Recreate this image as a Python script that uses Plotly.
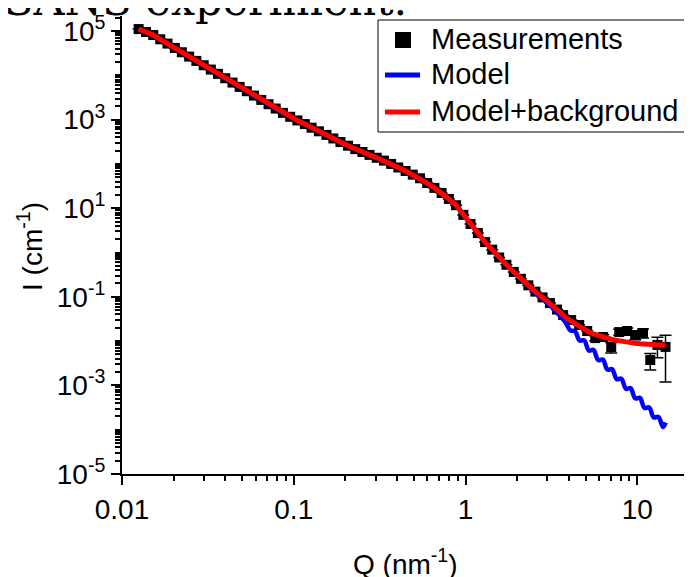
import plotly.graph_objects as go

# ---------------- data ----------------
q_meas = [0.0125, 0.0138, 0.0152, 0.0167, 0.0184, 0.0203, 0.0223, 0.0246, 0.0271, 0.0299,
          0.0329, 0.0362, 0.0399, 0.0440, 0.0484, 0.0533, 0.0587, 0.0647, 0.0713, 0.0785,
          0.0865, 0.0953, 0.105, 0.116, 0.127, 0.140, 0.155, 0.170, 0.187, 0.207,
          0.228, 0.251, 0.276, 0.304, 0.335, 0.369, 0.406, 0.448, 0.493, 0.543,
          0.598, 0.659, 0.726, 0.800, 0.881, 0.971, 1.07, 1.18, 1.30, 1.43,
          1.57, 1.73, 1.91, 2.10, 2.32, 2.55, 2.81, 3.10, 3.41,
          3.70, 4.12, 4.59, 5.11, 5.69, 6.33, 7.05, 7.85, 8.73, 9.72, 10.8, 11.9, 13.1, 14.6]

i_meas = [1.11e5, 9.51e4, 8.13e4, 6.52e4, 5.21e4, 4.16e4, 3.32e4, 2.65e4, 2.12e4, 1.69e4,
          1.35e4, 1.08e4, 8610, 6870, 5480, 4380, 3490, 2790, 2230, 1780,
          1420, 1160, 959, 794, 658, 546, 453, 376, 312, 258,
          216, 186, 160, 138, 119, 100, 83.4, 69.2, 57.3, 47.5,
          37.0, 28.8, 22.1, 16.2, 11.7, 7.08, 4.42, 2.75, 1.72, 1.16,
          0.773, 0.530, 0.365, 0.255, 0.182, 0.131, 0.0971, 0.0723, 0.0516,
          0.0388, 0.0299, 0.0231, 0.0169, 0.0117, 0.0124, 0.00736, 0.0160, 0.0169, 0.0137,
          0.0152, 0.00374, 0.0082, 0.0074]

err_meas = [None] * 63 + [0.0015, 0.0015, 0.0020, 0.0025, 0.0030, 0.0030, 0.0035, 0.0015, 0.0040, 0.0062]

q_tail = [3.83, 4.07, 4.34, 4.61, 4.91, 5.22, 5.56, 5.92, 6.30, 6.70, 7.13, 7.59,
          8.07, 8.59, 9.14, 9.73, 10.35, 11.02, 11.72, 12.47, 13.27, 14.13, 14.62]

model_bg_tail = [0.0340, 0.0290, 0.0248, 0.0213, 0.0180, 0.0160, 0.0145, 0.0133, 0.0123, 0.0115,
                 0.0109, 0.0104, 0.0099, 0.0095, 0.0091, 0.0089, 0.0087, 0.0085, 0.0084, 0.0083,
                 0.0082, 0.0081, 0.0081]

model_mid = [0.247, 0.174, 0.123, 0.0892, 0.0644, 0.0437]

model_tail = [0.0262, 0.0174, 0.0167, 0.0103, 0.0104, 0.00614, 0.00631, 0.00373, 0.00384, 0.00227,
              0.00233, 0.00138, 0.00142, 0.000839, 0.000863, 0.000511, 0.000525, 0.000310, 0.000319,
              0.000189, 0.000194, 0.000115, 0.000145]

q_model = q_meas[:59] + q_tail
i_model_bg = i_meas[:59] + model_bg_tail
i_model = i_meas[:53] + model_mid + model_tail

series_names = ["Measurements", "Model", "Model+background"]
series_colors = ["black", "#0000ff", "#ff0000"]

x_tick_vals = [0.01, 0.1, 1, 10]
x_tick_text = ["0.01", "0.1", "1", "10"]
y_tick_vals = [1e-5, 1e-3, 1e-1, 1e1, 1e3, 1e5]
y_tick_text = ["10<sup>-5</sup>", "10<sup>-3</sup>", "10<sup>-1</sup>",
               "10<sup>1</sup>", "10<sup>3</sup>", "10<sup>5</sup>"]

x_minor = [m * 10 ** e for e in range(-2, 2) for m in range(2, 10)] + [20]
y_minor = [m * 10 ** e for e in range(-5, 6) for m in range(1, 10)
           if not (m == 1 and e % 2 != 0)]

FONT = "Liberation Sans, Arial, sans-serif"

# figure geometry (page has an 8px body margin)
W, H = 684, 569
L, R, T, B = 114, 3, 8, 103
PW, PH = W - L - R, H - T - B


def px(fx):
    return (fx - L) / PW


def py(fy):
    return (H - B - fy) / PH


fig = go.Figure()

fig.add_trace(go.Scatter(x=q_meas, y=i_meas, mode="markers", name=series_names[0],
                         showlegend=False,
                         marker=dict(symbol="square", size=10, color=series_colors[0], line=dict(width=0)),
                         error_y=dict(type="data", array=err_meas, visible=True,
                                      color="black", thickness=1.5, width=6)))

fig.add_trace(go.Scatter(x=q_model, y=i_model, mode="lines", name=series_names[1],
                         showlegend=False,
                         line=dict(color=series_colors[1], width=4.5, shape="spline", smoothing=1)))

fig.add_trace(go.Scatter(x=q_model, y=i_model_bg, mode="lines", name=series_names[2],
                         showlegend=False,
                         line=dict(color=series_colors[2], width=5)))

axis_common = dict(showline=True, linecolor="black", linewidth=2, mirror=False,
                   showgrid=False, zeroline=False, ticks="outside", ticklen=9,
                   tickwidth=2, tickcolor="black",
                   tickfont=dict(family=FONT, size=28, color="black"))

fig.update_xaxes(type="log", range=[-2, 1.30103], tickmode="array",
                 tickvals=x_tick_vals, ticktext=x_tick_text,
                 minor=dict(tickmode="array", tickvals=x_minor, ticks="outside",
                            ticklen=5, tickwidth=1.5, tickcolor="black"),
                 **axis_common)
fig.update_yaxes(type="log", range=[-5, 5.34], tickmode="array",
                 tickvals=y_tick_vals, ticktext=y_tick_text,
                 minor=dict(tickmode="array", tickvals=y_minor, ticks="outside",
                            ticklen=5, tickwidth=1.5, tickcolor="black"),
                 **axis_common)

# hand-drawn legend (box, symbols, labels)
shapes = [
    dict(type="rect", xref="paper", yref="paper", x0=px(370), x1=px(700), y0=py(124), y1=py(12),
         line=dict(color="black", width=1), fillcolor="white", layer="above"),
    dict(type="rect", xref="paper", yref="paper", x0=px(387), x1=px(403), y0=py(40), y1=py(24),
         line=dict(width=0), fillcolor=series_colors[0], layer="above"),
    dict(type="line", xref="paper", yref="paper", x0=px(377), x1=px(412), y0=py(67), y1=py(67),
         line=dict(color=series_colors[1], width=5), layer="above"),
    dict(type="line", xref="paper", yref="paper", x0=px(377), x1=px(412), y0=py(104), y1=py(104),
         line=dict(color=series_colors[2], width=5), layer="above"),
]

legend_text_y = [31, 66, 103]
annotations = [
    dict(text=name, xref="paper", yref="paper", x=px(421), y=py(yy),
         xanchor="left", yanchor="middle", showarrow=False,
         font=dict(family=FONT, size=29, color="black"))
    for name, yy in zip(series_names, legend_text_y)
]
annotations += [
    dict(text="Q (nm<sup>-1</sup>)", xref="paper", yref="paper",
         x=0.5, y=py(554), xanchor="center", yanchor="middle",
         showarrow=False, font=dict(family=FONT, size=28, color="black")),
    dict(text="I (cm<sup>-1</sup>)", xref="paper", yref="paper",
         x=px(22), y=py(239), xanchor="center", yanchor="middle",
         textangle=-90, showarrow=False, font=dict(family=FONT, size=28, color="black")),
    dict(text="SANS experiment.", xref="paper", yref="paper",
         x=px(-6), y=py(-8), xanchor="left", yanchor="middle",
         showarrow=False, font=dict(family="DejaVu Serif, serif", size=43, color="black")),
]

fig.update_layout(
    width=W, height=H,
    margin=dict(l=L, r=R, t=T, b=B, autoexpand=False),
    paper_bgcolor="white", plot_bgcolor="white",
    font=dict(family=FONT, size=28, color="black"),
    showlegend=False,
    shapes=shapes,
    annotations=annotations,
)

fig.write_html("out.html")
